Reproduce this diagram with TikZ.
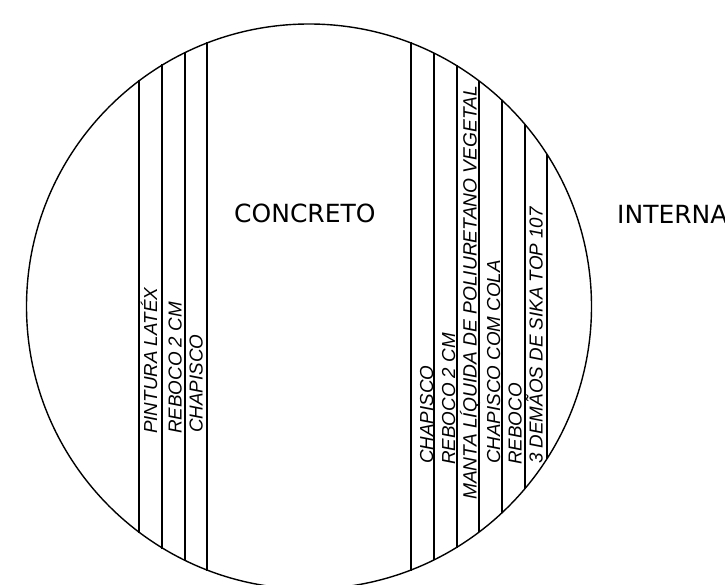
\documentclass[tikz,border=0pt]{standalone}
\usepackage{fontspec}
\setmainfont{Liberation Sans}
\newfontfamily\titlefont{DejaVu Sans}
\tikzset{
  wall/.style={draw=black,line width=1.25pt},
  circ/.style={draw=black,line width=1.4pt},
  layer/.style={rotate=90,anchor=base west,inner sep=0pt,font=\fontsize{18.8}{21}\selectfont\itshape},
  longlayer/.style={layer,font=\fontsize{19.2}{21}\selectfont\itshape},
  material/.style={anchor=base west,inner sep=0pt,font=\titlefont\fontsize{25}{28}\selectfont}
}
\begin{document}
\begin{tikzpicture}[x=1pt,y=-1pt]
\useasboundingbox (0,0) rectangle (725,585);
\clip (0,0) rectangle (725,585);
\coordinate (c) at (309,306.5);
\draw[circ] (c) circle (282.5pt);
% vertical layer lines
\foreach \n/\x/\t/\b in {a/139/80/533,b/162/64/549,c1/185/52/561,d/207/42/571,
  e/411/42/571,f/434/53/560,g/457/65/548,h/479/81/532,i/502/100/513,j/525/124/489,k/547/154/459}{
  \coordinate (\n t) at (\x,\t);
  \coordinate (\n b) at (\x,\b);
  \draw[wall] (\n t) -- (\n b);
}
\node[layer] (l1) at (157,434) {PINTURA LATÉX};
\node[layer] (l2) at (181.5,434) {REBOCO 2 CM};
\node[layer] (l3) at (202.7,433) {CHAPISCO};
\node[layer] (r1) at (433,464) {CHAPISCO};
\node[layer] (r2) at (455,465) {REBOCO 2 CM};
\node[longlayer] (r3) at (476.7,500) {MANTA LÍQUIDA DE POLIURETANO VEGETAL};
\node[layer] (r4) at (500,464) {CHAPISCO COM COLA};
\node[layer] (r5) at (521.7,465) {REBOCO};
\node[layer] (r6) at (542.7,464) {3 DEMÃOS DE SIKA TOP 107};
\node[material] (m1) at (234,223) {CONCRETO};
\node[material] (m2) at (617,224) {INTERNA};
\end{tikzpicture}
\end{document}
